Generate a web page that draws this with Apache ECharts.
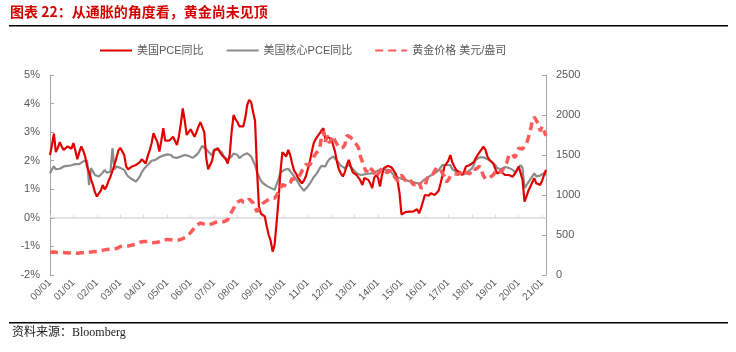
<!DOCTYPE html>
<html>
<head>
<meta charset="utf-8">
<script src="https://cdn.jsdelivr.net/npm/echarts@6/dist/echarts.min.js"></script>
<style>
  html, body { margin: 0; padding: 0; background: #fff; }
  #chart { width: 736px; height: 352px; }
</style>
</head>
<body>
<div id="chart"></div>
<script>
// 年份（x轴标签 YY/01）
const years = ['00', '01', '02', '03', '04', '05', '06', '07', '08', '09', '10',
  '11', '12', '13', '14', '15', '16', '17', '18', '19', '20', '21']
const lastYearMonths = 3

// 美国PCE同比 (%)
const pce = [
  2.2, 2.55, 2.95, 2.3, 2.45, 2.65, 2.5, 2.38, 2.45, 2.5, 2.45, 2.42,
  2.62, 2.35, 2.05, 2.3, 2.5, 2.35, 2.15, 1.8, 1.6, 1.35, 1.15, 0.9,
  0.75, 0.75, 0.95, 1.15, 1.0, 1.1, 1.3, 1.45, 1.65, 1.85, 2.1, 2.35,
  2.45, 2.52, 2.2, 1.8, 1.7, 1.75, 1.8, 1.8, 1.85, 1.9, 1.95, 2.05,
  2.12, 1.9, 2.15, 2.35, 2.6, 2.96, 2.8, 2.65, 2.32, 2.7, 3.14, 2.7,
  2.65, 2.7, 2.75, 2.84, 2.7, 2.55, 2.85, 3.3, 3.83, 3.4, 2.9, 2.85,
  3.1, 3.1, 2.84, 3.0, 3.19, 3.35, 3.3, 3.0, 2.1, 1.7, 1.75, 2.0,
  2.35, 2.4, 2.44, 2.3, 2.2, 2.15, 2.05, 1.9, 2.2, 3.0, 3.6, 3.45,
  3.35, 3.2, 3.15, 3.2, 3.5, 3.95, 4.13, 4.05, 3.7, 3.4, 1.7, 0.4,
  0.15, 0.1, 0.05, -0.3, -0.6, -0.8, -1.18, -0.95, -0.2, 0.6, 1.6, 2.3,
  2.3, 2.15, 2.38, 2.2, 1.9, 1.65, 1.55, 1.4, 1.3, 1.21, 1.3, 1.45,
  1.7, 1.95, 2.3, 2.6, 2.75, 2.85, 2.95, 3.05, 3.14, 2.75, 2.85, 2.85,
  2.75, 2.55, 2.3, 1.95, 1.68, 1.55, 1.45, 1.6, 1.85, 2.03, 1.8, 1.6,
  1.58, 1.5, 1.45, 1.3, 1.15, 1.4, 1.4, 1.33, 1.2, 1.04, 1.4, 1.5,
  1.4, 1.1, 1.5, 1.74, 1.8, 1.82, 1.8, 1.76, 1.74, 1.55, 1.3, 0.86,
  0.12, 0.16, 0.2, 0.14, 0.22, 0.28, 0.22, 0.16, 0.3, 0.16, 0.34, 0.4,
  0.8, 0.75, 0.78, 0.86, 0.85, 0.8, 0.8, 0.95, 1.2, 1.5, 1.8, 1.9,
  2.0, 2.2, 1.95, 1.8, 1.68, 1.62, 1.58, 1.5, 1.6, 1.8, 1.82, 1.85,
  1.85, 1.95, 2.09, 2.2, 2.3, 2.4, 2.49, 2.38, 2.15, 2.03, 2.03, 1.9,
  1.85, 1.55, 1.55, 1.62, 1.55, 1.5, 1.5, 1.5, 1.46, 1.44, 1.42, 1.65,
  1.8, 1.85, 1.33, 0.57, 0.75, 0.95, 1.1, 1.25, 1.39, 1.21, 1.2, 1.15,
  1.3, 1.5, 1.68
]

// 美国核心PCE同比 (%)
const corePce = [
  1.56, 1.7, 1.8, 1.7, 1.68, 1.72, 1.75, 1.8, 1.78, 1.82, 1.85, 1.84,
  1.85, 1.88, 1.91, 1.88, 1.92, 1.98, 2.03, 2.0, 1.15, 1.74, 1.8, 1.5,
  1.45, 1.45, 1.5, 1.58, 1.68, 1.58, 1.6, 1.62, 2.44, 1.7, 1.8, 1.78,
  1.75, 1.72, 1.68, 1.55, 1.45, 1.4, 1.35, 1.3, 1.27, 1.35, 1.45, 1.6,
  1.7, 1.78, 1.85, 1.92, 2.0, 2.05, 2.03, 2.08, 2.12, 2.15, 2.18, 2.2,
  2.22, 2.26, 2.2, 2.12, 2.12, 2.1, 2.12, 2.15, 2.18, 2.2, 2.2, 2.17,
  2.15, 2.1, 2.1, 2.2, 2.28, 2.4, 2.52, 2.48, 2.4, 2.32, 2.26, 2.18,
  2.4, 2.42, 2.38, 2.35, 2.3, 2.15, 2.08, 2.03, 2.08, 2.15, 2.25, 2.32,
  2.2, 2.09, 2.15, 2.2, 2.22, 2.26, 2.2, 2.15, 2.09, 1.85, 1.6, 1.45,
  1.3, 1.22, 1.15, 1.12, 1.1, 1.05, 1.02, 0.98, 1.02, 1.35, 1.58, 1.65,
  1.68, 1.72, 1.72, 1.68, 1.55, 1.45, 1.38, 1.25, 1.12, 1.04, 0.95, 0.95,
  1.1, 1.2, 1.3, 1.42, 1.5, 1.6, 1.72, 1.82, 1.85, 1.8, 1.95, 2.05,
  2.12, 2.15, 2.12, 2.0, 1.91, 1.82, 1.78, 1.74, 1.8, 1.85, 1.78, 1.72,
  1.65, 1.56, 1.52, 1.5, 1.5, 1.52, 1.56, 1.55, 1.56, 1.56, 1.6, 1.62,
  1.64, 1.68, 1.7, 1.7, 1.7, 1.68, 1.64, 1.58, 1.5, 1.45, 1.42, 1.39,
  1.37, 1.35, 1.33, 1.3, 1.28, 1.27, 1.25, 1.22, 1.21, 1.2, 1.22, 1.3,
  1.35, 1.4, 1.45, 1.48, 1.52, 1.56, 1.6, 1.66, 1.72, 1.85, 1.82, 1.85,
  1.9, 1.85, 1.7, 1.65, 1.62, 1.58, 1.55, 1.5, 1.52, 1.56, 1.62, 1.68,
  1.72, 1.85, 2.03, 2.08, 2.12, 2.12, 2.12, 2.1, 2.06, 2.03, 1.98, 1.92,
  1.85, 1.74, 1.68, 1.7, 1.74, 1.78, 1.8, 1.75, 1.72, 1.68, 1.6, 1.56,
  1.75, 1.85, 1.74, 1.04, 1.1, 1.25, 1.35, 1.45, 1.56, 1.45, 1.46, 1.48,
  1.52, 1.56, 1.5
]

// 黄金价格 美元/盎司
const gold = [
  285, 292, 288, 282, 280, 279, 282, 278, 279, 279, 276, 274,
  272, 270, 271, 272, 277, 280, 278, 280, 285, 291, 290, 291,
  293, 296, 305, 312, 314, 318, 322, 320, 325, 320, 330, 345,
  356, 367, 358, 362, 362, 368, 374, 378, 385, 400, 410, 412,
  418, 425, 420, 410, 404, 400, 405, 410, 416, 425, 435, 442,
  445, 446, 440, 437, 435, 437, 437, 445, 455, 470, 479, 500,
  530, 560, 590, 620, 645, 650, 635, 635, 637, 625, 630, 640,
  650, 660, 665, 668, 665, 667, 670, 690, 740, 790, 830, 880,
  910, 925, 937, 910, 895, 920, 950, 958, 900, 840, 792, 810,
  860, 896, 917, 930, 945, 958, 955, 958, 980, 1030, 1080, 1130,
  1150, 1110, 1115, 1150, 1205, 1230, 1195, 1210, 1250, 1300, 1340, 1380,
  1360, 1375, 1420, 1475, 1515, 1530, 1570, 1720, 1800, 1665, 1740, 1650,
  1655, 1740, 1675, 1650, 1590, 1598, 1595, 1625, 1745, 1750, 1720, 1685,
  1670, 1630, 1590, 1480, 1415, 1345, 1285, 1350, 1350, 1315, 1275, 1225,
  1245, 1300, 1335, 1300, 1290, 1280, 1310, 1295, 1240, 1225, 1175, 1200,
  1250, 1230, 1180, 1200, 1200, 1180, 1130, 1120, 1125, 1160, 1085, 1070,
  1100, 1200, 1245, 1245, 1260, 1275, 1340, 1335, 1325, 1265, 1235, 1160,
  1190, 1235, 1230, 1265, 1245, 1260, 1235, 1285, 1315, 1280, 1280, 1265,
  1330, 1330, 1320, 1340, 1360, 1300, 1240, 1200, 1195, 1215, 1220, 1250,
  1290, 1320, 1300, 1285, 1285, 1360, 1410, 1500, 1495, 1510, 1465, 1515,
  1585, 1610, 1575, 1610, 1640, 1720, 1810, 1930, 1975, 1960, 1890, 1800,
  1860, 1880, 1740
]

const months = []
years.forEach((y, i) => {
  const n = i === years.length - 1 ? lastYearMonths : 12
  for (let m = 1; m <= n; m++) months.push(y + '/' + (m < 10 ? '0' + m : m))
})

const axisGray = '#a6a6a6'
const labelColor = '#595959'
const yearOnly = (idx) => idx % 12 === 0

const myChart = echarts.init(document.getElementById('chart'), null, { renderer: 'canvas' })

myChart.setOption({
  animation: false,
  textStyle: { fontFamily: 'Arial, "Liberation Sans", "Noto Sans CJK SC", sans-serif' },
  legend: {
    left: 94,
    top: 40,
    itemWidth: 32,
    itemHeight: 10,
    itemGap: 22,
    itemStyle: { opacity: 0 },
    textStyle: { color: labelColor, fontSize: 11 },
    data: ['美国PCE同比', '美国核心PCE同比', '黄金价格 美元/盎司']
  },
  grid: { left: 50, right: 190, top: 75, bottom: 77, containLabel: false },
  xAxis: [
    {
      type: 'category',
      data: months,
      boundaryGap: false,
      axisLine: { show: false, onZero: false },
      axisTick: { show: false },
      axisLabel: {
        interval: yearOnly,
        rotate: 45,
        fontSize: 10,
        color: labelColor,
        margin: 6,
        formatter: (v) => v.slice(0, 2) + '/01'
      }
    },
    {
      type: 'category',
      data: months,
      boundaryGap: false,
      position: 'bottom',
      axisLine: { show: true, onZero: true, onZeroAxisIndex: 0, lineStyle: { color: '#d9d9d9', width: 1.5 } },
      axisTick: { show: true, inside: true, length: 3, interval: yearOnly, lineStyle: { color: '#d9d9d9' } },
      axisLabel: { show: false }
    }
  ],
  yAxis: [
    {
      type: 'value',
      min: -2,
      max: 5,
      interval: 1,
      axisLine: { show: true, lineStyle: { color: axisGray } },
      axisTick: { show: true, inside: true, length: 4, lineStyle: { color: axisGray } },
      splitLine: { show: false },
      axisLabel: { formatter: '{value}%', color: labelColor, fontSize: 11, margin: 10 }
    },
    {
      type: 'value',
      min: 0,
      max: 2500,
      interval: 500,
      axisLine: { show: true, lineStyle: { color: axisGray } },
      axisTick: { show: true, inside: true, length: 4, lineStyle: { color: axisGray } },
      splitLine: { show: false },
      axisLabel: { color: labelColor, fontSize: 11, margin: 10, formatter: (v) => String(v) }
    }
  ],
  series: [
    {
      name: '美国PCE同比',
      type: 'line',
      xAxisIndex: 1,
      yAxisIndex: 0,
      data: pce,
      symbol: 'none',
      z: 3,
      lineStyle: { color: '#e00000', width: 2.2 },
      itemStyle: { color: '#e00000' }
    },
    {
      name: '美国核心PCE同比',
      type: 'line',
      xAxisIndex: 1,
      yAxisIndex: 0,
      data: corePce,
      symbol: 'none',
      z: 2,
      lineStyle: { color: '#8c8c8c', width: 2.2 },
      itemStyle: { color: '#8c8c8c' }
    },
    {
      name: '黄金价格 美元/盎司',
      type: 'line',
      xAxisIndex: 1,
      yAxisIndex: 1,
      data: gold,
      symbol: 'none',
      z: 4,
      lineStyle: { color: '#ff5a5a', width: 3.5, type: [8, 5] },
      itemStyle: { color: '#ff5a5a' }
    }
  ],
  graphic: [
    {
      type: 'text',
      left: 10,
      top: 5,
      style: {
        text: '图表 22：从通胀的角度看，黄金尚未见顶',
        fill: '#d40000',
        font: 'bold 14px "Noto Sans CJK SC", sans-serif'
      }
    },
    { type: 'rect', shape: { x: 9, y: 25, width: 719, height: 1.5 }, style: { fill: '#000' } },
    { type: 'rect', shape: { x: 9, y: 322, width: 719, height: 1.5 }, style: { fill: '#000' } },
    {
      type: 'text',
      left: 12,
      top: 327,
      style: {
        text: '资料来源：Bloomberg',
        fill: '#222',
        font: '12px "Liberation Serif", "Noto Sans CJK SC", serif'
      }
    }
  ]
})
</script>
</body>
</html>
